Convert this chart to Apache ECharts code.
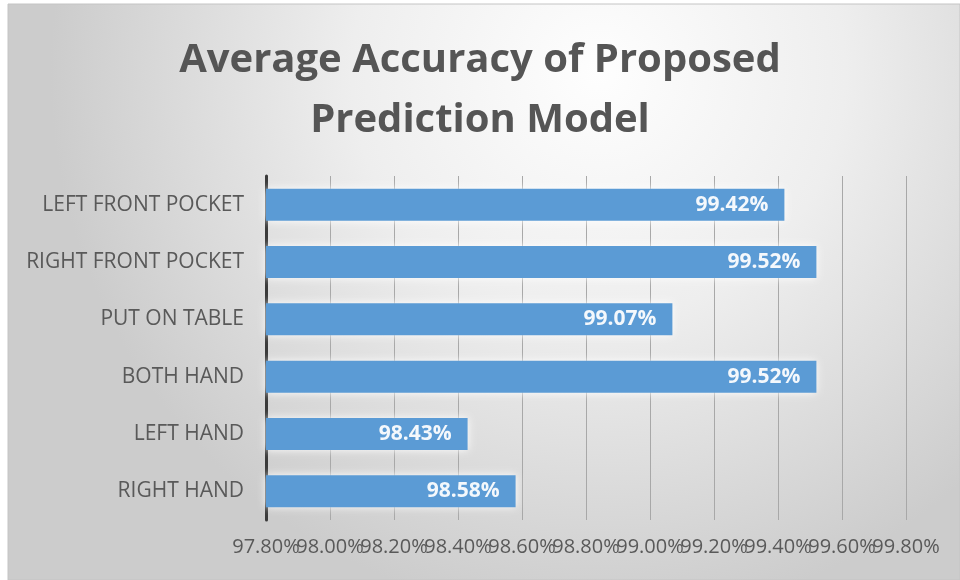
<!DOCTYPE html>
<html>
<head>
<meta charset="utf-8">
<script src="https://cdn.jsdelivr.net/npm/echarts@6/dist/echarts.min.js"></script>
<style>
html,body{margin:0;padding:0;background:#ffffff;}
#chart{width:960px;height:580px;}
</style>
</head>
<body>
<div id="chart"></div>
<script>
var categories = ['LEFT FRONT POCKET', 'RIGHT FRONT POCKET', 'PUT ON TABLE', 'BOTH HAND', 'LEFT HAND', 'RIGHT HAND'];
var accuracy = [99.42, 99.52, 99.07, 99.52, 98.43, 98.58];
var axisMin = 97.8;
var axisMax = 99.8;
var axisStep = 0.2;
var titleText = 'Average Accuracy of Proposed\nPrediction Model';

function tickIndex(v) { return Math.round((v - axisMin) / axisStep); }
function fmtEven(v) { return tickIndex(v) % 2 === 0 ? v.toFixed(2) + '%' : ''; }
function fmtOdd(v) { return tickIndex(v) % 2 === 1 ? v.toFixed(2) + '%' : ''; }

var labelStyle = {
  margin: 17,
  showMinLabel: true,
  showMaxLabel: true,
  hideOverlap: false,
  fontFamily: 'Open Sans',
  fontSize: 20,
  color: '#595959'
};

var chart = echarts.init(document.getElementById('chart'));
var option = {
  backgroundColor: '#ffffff',
  graphic: [{
    type: 'rect',
    z: -10,
    silent: true,
    shape: {x: 8, y: 4, width: 952, height: 576},
    style: {
      fill: new echarts.graphic.RadialGradient(0.62, 0.12, 0.95, [
        {offset: 0, color: '#fefefe'},
        {offset: 0.45, color: '#eeeeee'},
        {offset: 1, color: '#cccccc'}
      ]),
      stroke: '#c4c4c4',
      lineWidth: 1
    }
  }],
  title: {
    text: titleText,
    left: 'center',
    top: 31,
    padding: [0, 0, 0, 40],
    textStyle: {
      fontFamily: 'Open Sans',
      fontWeight: 'bold',
      fontSize: 40,
      lineHeight: 60,
      color: '#555555'
    }
  },
  grid: {left: 266, right: 54, top: 176, bottom: 60, containLabel: false},
  xAxis: [{
    type: 'value',
    position: 'bottom',
    min: axisMin,
    max: axisMax,
    interval: axisStep,
    axisLine: {show: false},
    axisTick: {show: false},
    splitLine: {show: true, lineStyle: {color: '#a8a8a8', width: 1}},
    axisLabel: Object.assign({}, labelStyle, {formatter: fmtEven})
  }, {
    type: 'value',
    position: 'bottom',
    offset: 0,
    min: axisMin,
    max: axisMax,
    interval: axisStep,
    axisLine: {show: false},
    axisTick: {show: false},
    splitLine: {show: false},
    axisLabel: Object.assign({}, labelStyle, {formatter: fmtOdd})
  }],
  yAxis: {
    type: 'category',
    data: categories,
    inverse: true,
    axisLine: {show: true, lineStyle: {color: '#3a3a3a', width: 3}},
    axisTick: {show: false},
    axisLabel: {
      margin: 22,
      fontFamily: 'Open Sans',
      fontSize: 21,
      color: '#595959'
    }
  },
  series: [{
    type: 'bar',
    xAxisIndex: 0,
    data: accuracy,
    barWidth: 32,
    itemStyle: {
      color: '#5b9bd5',
      shadowColor: 'rgba(255,255,255,0.95)',
      shadowBlur: 8
    },
    label: {
      show: true,
      position: 'insideRight',
      distance: 16,
      fontFamily: 'Open Sans',
      fontWeight: 'bold',
      fontSize: 21,
      color: '#f4f8fc',
      formatter: function (p) { return p.value.toFixed(2) + '%'; }
    }
  }]
};
chart.setOption(option);
</script>
</body>
</html>
